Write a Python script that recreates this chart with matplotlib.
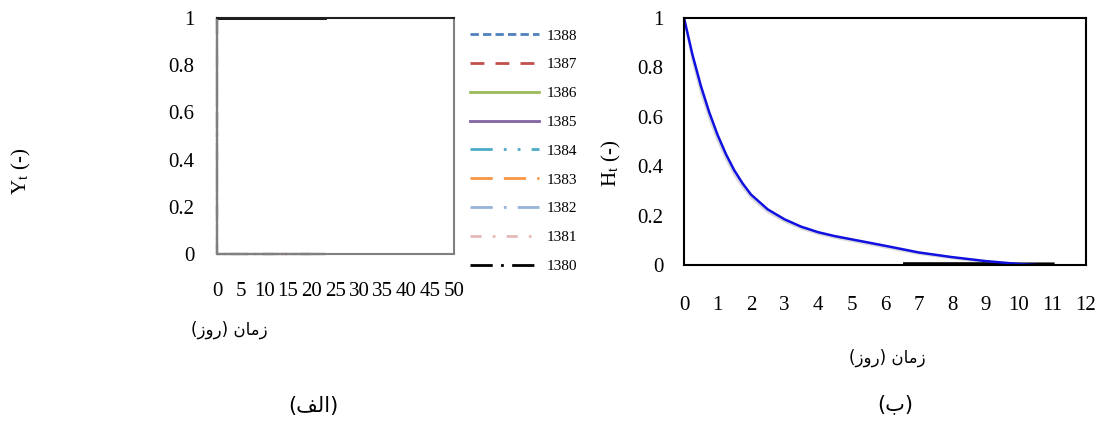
import matplotlib.pyplot as plt
import matplotlib.lines as mlines

plt.rcParams['font.family'] = ['Liberation Serif', 'DejaVu Serif']
plt.rcParams['mathtext.fontset'] = 'stix'

# legend years and their line styles (Excel-like palette)
years = ['1388', '1387', '1386', '1385', '1384', '1383', '1382', '1381', '1380']
colors = ['#4f81bd', '#c0504d', '#9bbb59', '#8064a2', '#4bacc6',
          '#f79646', '#95b3d7', '#e6b9b8', '#000000']
styles = [(0, (3, 1.5)), (0, (5, 4)), '-', '-', (0, (8, 4, 1, 4, 1, 4)),
          (0, (8, 4)), (0, (8, 4, 1, 4)), (0, (4, 4, 1, 4)), (0, (8, 3, 1, 3))]

# panel (a): Y_t, all years drop at t=0
left_t = [0, 0, 22.8]
left_y = [1, 0, 0]
left_top_t = [0, 22.8]
left_top_y = [1, 1]

# panel (b): H_t recession curve
right_t = [0, 0.25, 0.5, 0.75, 1.0, 1.25, 1.5, 1.75, 2.0, 2.5, 3.0, 3.5, 4.0,
           4.5, 5.0, 6.0, 7.0, 8.0, 9.0, 10.0, 10.5]
right_h = [1.0, 0.852, 0.726, 0.619, 0.527, 0.449, 0.383, 0.33, 0.285, 0.225,
           0.185, 0.155, 0.133, 0.117, 0.104, 0.078, 0.051, 0.032, 0.016,
           0.004, 0.0]
grey_h = [1.0, 0.83, 0.70, 0.595, 0.505, 0.43, 0.365, 0.315, 0.272, 0.214,
          0.176, 0.147, 0.126, 0.110, 0.097, 0.071, 0.045, 0.027, 0.012,
          0.002, 0.0]
black_t = [6.6, 9.0, 10.0, 11.0]
black_h = [0.003, 0.003, 0.002, 0.002]

fa = ['DejaVu Sans']
xlab = '(\ufeaf\ufeed\ufead) \ufee5\ufe8e\ufee3\ufeaf'  # زمان (روز)
lab_a = '(\ufed2\ufedf\ufe8d)'  # (الف)
lab_b = '(\ufe8f)'  # (ب)

fig = plt.figure(figsize=(10.98, 4.21), dpi=100)

ax1 = fig.add_axes([0.1976, 0.3967, 0.2158, 0.5606])
for yr, c, ls in zip(years, colors, styles):
    ax1.plot(left_t, left_y, color=c, ls=ls, lw=1.5, label=yr, clip_on=False)
ax1.plot(left_top_t, left_top_y, color='black', lw=2, clip_on=False)
ax1.set_xlim(0, 50)
ax1.set_ylim(0, 1)
ax1.set_xticks(range(0, 51, 5))
ax1.set_yticks([0, 0.2, 0.4, 0.6, 0.8, 1])
ax1.set_yticklabels(['0', '0.2', '0.4', '0.6', '0.8', '1'])
ax1.tick_params(length=0, labelsize=15)
ax1.tick_params(axis='y', pad=16)
ax1.tick_params(axis='x', pad=20)
for s in ax1.spines.values():
    s.set_color('#808080')
    s.set_linewidth(1.5)
ax1.spines['top'].set_color('#202020')
fig.text(0.020, 0.594, r'Y$_\mathrm{t}$ (-)', rotation=90, fontsize=15, ha='center', va='center')
fig.text(0.2086, 0.216, xlab, family=fa, fontsize=12, ha='center', va='center')
fig.text(0.285, 0.035, lab_a, family=fa, fontsize=15, ha='center', va='center')

handles = [mlines.Line2D([], [], color=c, ls=ls, lw=2) for c, ls in zip(colors, styles)]
fig.legend(handles, years, loc='upper left', bbox_to_anchor=(0.4226, 0.946),
           frameon=False, fontsize=11, handlelength=4.5, labelspacing=0.99,
           handletextpad=0.5, borderaxespad=0)

ax2 = fig.add_axes([0.6230, 0.3705, 0.3661, 0.5867])
ax2.plot(right_t, grey_h, color='#d8d8d8', lw=1.5)
ax2.plot(black_t, black_h, color='black', lw=3)
ax2.plot(right_t, right_h, color='#1010e0', lw=1.8)
ax2.set_xlim(0, 12)
ax2.set_ylim(0, 1)
ax2.set_xticks(range(0, 13))
ax2.set_yticks([0, 0.2, 0.4, 0.6, 0.8, 1])
ax2.set_yticklabels(['0', '0.2', '0.4', '0.6', '0.8', '1'])
ax2.tick_params(length=0, labelsize=15)
ax2.tick_params(axis='y', pad=15)
ax2.tick_params(axis='x', pad=22)
for s in ax2.spines.values():
    s.set_color('black')
    s.set_linewidth(1.5)
fig.text(0.557, 0.613, r'H$_\mathrm{t}$ (-)', rotation=90, fontsize=15, ha='center', va='center')
fig.text(0.808, 0.150, xlab, family=fa, fontsize=12, ha='center', va='center')
fig.text(0.815, 0.040, lab_b, family=fa, fontsize=15, ha='center', va='center')

fig.savefig('out.png', dpi=100)
